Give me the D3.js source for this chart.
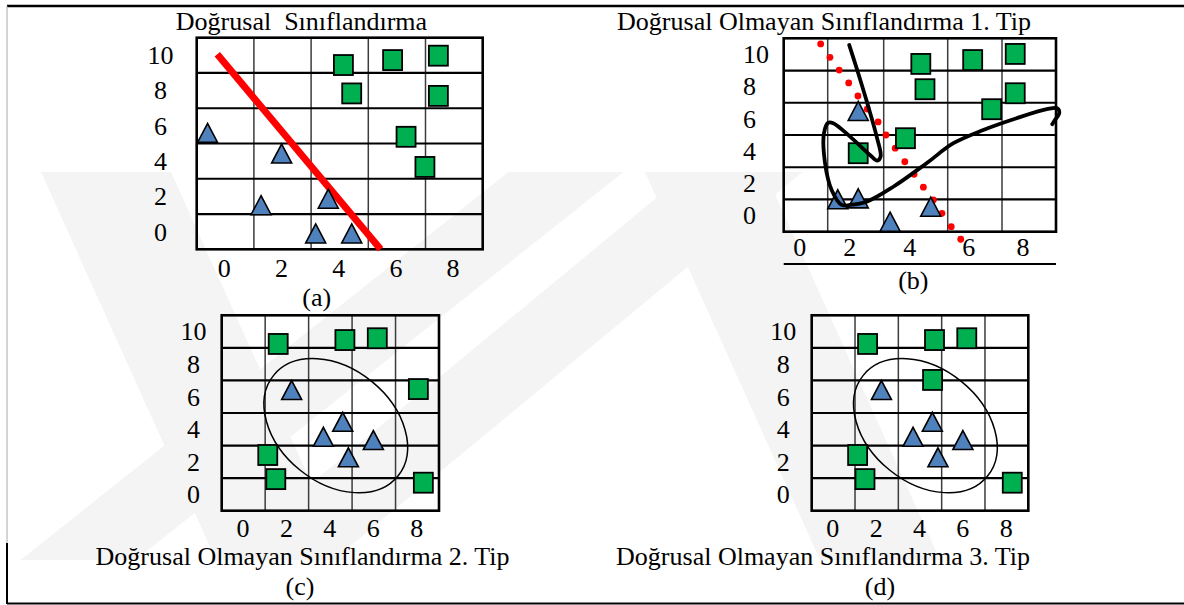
<!DOCTYPE html>
<html>
<head>
<meta charset="utf-8">
<script src="https://cdn.jsdelivr.net/npm/d3@7"></script>
<style>
body { margin: 0; background: #fff; }
svg text { font-family: "Liberation Serif", "Times New Roman", serif; font-size: 26px; fill: #000; }
</style>
</head>
<body>
<svg width="1184" height="605"></svg>
<script>
// tick labels and grid positions (same for all 4 panels)
var xTicks = [0, 2, 4, 6, 8];
var yTicks = [0, 2, 4, 6, 8, 10];
var xGrid = [1, 3, 5, 7];
var yGrid = [1, 3, 5, 7, 9];

var titles = ["Doğrusal  Sınıflandırma", "Doğrusal Olmayan Sınıflandırma 1. Tip",
              "Doğrusal Olmayan Sınıflandırma 2. Tip", "Doğrusal Olmayan Sınıflandırma 3. Tip"];
var captions = ["(a)", "(b)", "(c)", "(d)"];

// (a) linear separation
var aTriangles = [[-0.62, 5.6], [1.97, 4.43], [1.25, 1.5], [3.6, 1.87], [3.16, -0.1], [4.42, -0.1]];
var aSquares = [[4.13, 9.45], [4.42, 7.84], [5.85, 9.73], [7.45, 9.98], [7.45, 7.7], [6.32, 5.38], [6.98, 3.67]];
var aLine = [[-0.28, 10.06], [5.43, -1]];

// (b) non-linear type 1
var bTriangles = [[2.09, 6.49], [1.36, 1.01], [2.09, 1.07], [3.2, -0.38], [4.47, 0.55]];
var bSquares = [[4.16, 9.41], [4.29, 7.84], [5.92, 9.65], [7.49, 10.03], [7.49, 7.59], [6.62, 6.6], [3.68, 4.8], [2.09, 3.87]];
var bDots = [[0.68, 10.65], [1.08, 9.82], [1.41, 9.03], [1.75, 8.23], [2.08, 7.42], [2.41, 6.61], [2.8, 5.81], [3.07, 5.0],
             [3.36, 4.18], [3.66, 3.34], [3.95, 2.56], [4.24, 1.76], [4.55, 0.97], [4.82, 0.14], [5.13, -0.69], [5.48, -1.47]];
var bCurve = [[1.77, 10.58], [2.09, 8.83], [2.45, 6.76], [2.75, 4.9], [2.89, 3.66], [2.77, 3.41], [2.51, 3.76], [1.8, 4.9],
              [1.2, 5.73], [1.02, 5.76], [0.83, 5.11], [0.88, 3.25], [1.14, 1.59], [1.5, 0.66], [1.8, 0.66], [2.39, 0.86],
              [3.3, 1.79], [4.34, 3.25], [5.21, 4.49], [6.31, 5.31], [7.54, 6.04], [8.66, 6.6], [9.05, 6.66], [9.12, 6.35],
              [8.96, 5.93], [8.86, 5.67]];

// (c) non-linear type 2
var cSquares = [[1.6, 9.24], [4.67, 9.48], [6.16, 9.59], [8.05, 6.47], [1.12, 2.42], [1.49, 0.94], [8.28, 0.72]];
var cTriangles = [[2.22, 6.41], [4.57, 4.46], [3.68, 3.54], [5.98, 3.34], [4.83, 2.28]];
var cEllipse = [4.25, 4.22];

// (d) non-linear type 3
var dSquares = [[1.58, 9.24], [4.67, 9.48], [6.16, 9.59], [4.58, 7.03], [1.12, 2.42], [1.46, 0.94], [8.26, 0.72]];
var dTriangles = [[2.22, 6.41], [4.57, 4.46], [3.68, 3.54], [5.98, 3.34], [4.83, 2.28]];
var dEllipse = [4.25, 4.22];

var svg = d3.select("svg");

// faint background watermark
var wm = svg.append("g").attr("fill", "#f4f4f4");
[[106, 281, 130], [566, 78, 115], [745, 276, 115], [705, 880, 120]].forEach(function(b) {
  var h = b[2] / 2;
  wm.append("path").attr("d", "M" + (b[0] - h) + ",172L" + (b[0] + h) + ",172L" + (b[1] + h) + ",560L" + (b[1] - h) + ",560Z");
});

// page frame
svg.append("line").attr("x1", 7).attr("x2", 1184).attr("y1", 6).attr("y2", 6).attr("stroke", "#000").attr("stroke-width", 2.5);
svg.append("line").attr("x1", 7).attr("x2", 1184).attr("y1", 603.5).attr("y2", 603.5).attr("stroke", "#000").attr("stroke-width", 2);
svg.append("line").attr("x1", 7).attr("x2", 7).attr("y1", 6).attr("y2", 543).attr("stroke", "#aaa").attr("stroke-width", 1);
svg.append("line").attr("x1", 7).attr("x2", 7).attr("y1", 543).attr("y2", 604).attr("stroke", "#000").attr("stroke-width", 2);

var panels = [
  { left: 196.7, right: 482.7, top: 37.7, bottom: 249.3, yLabX: 160.5, yAnchor: "middle", xLabY: 277, xLabDx: -1,
    title: [301.5, 30], cap: [316.7, 306] },
  { left: 783.7, right: 1056, top: 38.3, bottom: 231.7, yLabX: 743, yAnchor: "start", xLabY: 256, xLabDx: -6,
    cols: [0, 0.1616, 0.3672, 0.6023, 0.8017, 1], underline: 264,
    title: [824, 29.5], cap: [913.3, 289] },
  { left: 221.7, right: 439, top: 315.3, bottom: 510.7, yLabX: 193.5, yAnchor: "middle", xLabY: 537, xLabDx: -0.5,
    title: [302.5, 565], cap: [300, 595] },
  { left: 811.7, right: 1028.3, top: 315.3, bottom: 510.7, yLabX: 783.3, yAnchor: "middle", xLabY: 537, xLabDx: -0.5,
    title: [823, 565], cap: [880, 595] }
];

panels.forEach(function(p) {
  if (p.cols) {
    p.x = d3.scaleLinear().domain([-1, 1, 3, 5, 7, 9])
      .range(p.cols.map(function(f) { return p.left + f * (p.right - p.left); }));
  } else {
    p.x = d3.scaleLinear().domain([-1, 9]).range([p.left, p.right]);
  }
  p.y = d3.scaleLinear().domain([-1, 11]).range([p.bottom, p.top]);
});

function drawFrame(p, i) {
  var g = svg.append("g");
  g.selectAll(".vg").data(xGrid).enter().append("line")
    .attr("x1", function(d) { return p.x(d); }).attr("x2", function(d) { return p.x(d); })
    .attr("y1", p.top).attr("y2", p.bottom)
    .attr("stroke", "#3c3c3c").attr("stroke-width", 1.5);
  g.selectAll(".hg").data(yGrid).enter().append("line")
    .attr("x1", p.left).attr("x2", p.right)
    .attr("y1", function(d) { return p.y(d); }).attr("y2", function(d) { return p.y(d); })
    .attr("stroke", "#000").attr("stroke-width", 2.2);
  g.append("rect").attr("x", p.left).attr("y", p.top)
    .attr("width", p.right - p.left).attr("height", p.bottom - p.top)
    .attr("fill", "none").attr("stroke", "#000").attr("stroke-width", 2.6);

  g.selectAll(".yl").data(yTicks).enter().append("text")
    .attr("x", p.yLabX).attr("y", function(d) { return p.y(d); })
    .attr("dy", "0.34em").attr("text-anchor", p.yAnchor)
    .text(function(d) { return d; });
  g.selectAll(".xl").data(xTicks).enter().append("text")
    .attr("x", function(d) { return p.x(d) + p.xLabDx; }).attr("y", p.xLabY)
    .attr("text-anchor", "middle")
    .text(function(d) { return d; });

  if (p.underline)
    g.append("line").attr("x1", p.left).attr("x2", p.right).attr("y1", p.underline).attr("y2", p.underline)
      .attr("stroke", "#000").attr("stroke-width", 2.2);

  svg.append("text").attr("x", p.title[0]).attr("y", p.title[1]).attr("text-anchor", "middle")
    .style("white-space", "pre").text(titles[i]);
  svg.append("text").attr("x", p.cap[0]).attr("y", p.cap[1]).attr("text-anchor", "middle").text(captions[i]);
}

function drawSquares(p, data) {
  svg.append("g").selectAll("rect").data(data).enter().append("rect")
    .attr("x", function(d) { return p.x(d[0]) - 9.5; })
    .attr("y", function(d) { return p.y(d[1]) - 10; })
    .attr("width", 19).attr("height", 20)
    .attr("fill", "#00b050").attr("stroke", "#000").attr("stroke-width", 1.8);
}

function drawTriangles(p, data) {
  svg.append("g").selectAll("path").data(data).enter().append("path")
    .attr("transform", function(d) { return "translate(" + p.x(d[0]) + "," + p.y(d[1]) + ")"; })
    .attr("d", "M0,-9.5L10,9.5L-10,9.5Z")
    .attr("fill", "#4f81bd").attr("stroke", "#000").attr("stroke-width", 1.6);
}

function drawEllipse(p, c) {
  svg.append("ellipse")
    .attr("transform", "translate(" + p.x(c[0]) + "," + p.y(c[1]) + ") rotate(39)")
    .attr("rx", 80).attr("ry", 57)
    .attr("fill", "none").attr("stroke", "#000").attr("stroke-width", 1.5);
}

panels.forEach(drawFrame);

// (a)
var pa = panels[0];
svg.append("line")
  .attr("x1", pa.x(aLine[0][0])).attr("y1", pa.y(aLine[0][1]))
  .attr("x2", pa.x(aLine[1][0])).attr("y2", pa.y(aLine[1][1]))
  .attr("stroke", "#ff0000").attr("stroke-width", 7);
drawSquares(pa, aSquares);
drawTriangles(pa, aTriangles);

// (b)
var pb = panels[1];
svg.append("g").selectAll("circle").data(bDots).enter().append("circle")
  .attr("cx", function(d) { return pb.x(d[0]); })
  .attr("cy", function(d) { return pb.y(d[1]); })
  .attr("r", 3.4).attr("fill", "#ff0000");
drawSquares(pb, bSquares);
drawTriangles(pb, bTriangles);
var curve = d3.line()
  .x(function(d) { return pb.x(d[0]); })
  .y(function(d) { return pb.y(d[1]); })
  .curve(d3.curveCatmullRom.alpha(0.5));
svg.append("path").datum(bCurve).attr("d", curve)
  .attr("fill", "none").attr("stroke", "#000").attr("stroke-width", 3.8)
  .attr("stroke-linecap", "round").attr("stroke-linejoin", "round");

// (c)
var pc = panels[2];
drawSquares(pc, cSquares);
drawTriangles(pc, cTriangles);
drawEllipse(pc, cEllipse);

// (d)
var pd = panels[3];
drawSquares(pd, dSquares);
drawTriangles(pd, dTriangles);
drawEllipse(pd, dEllipse);
</script>
</body>
</html>
